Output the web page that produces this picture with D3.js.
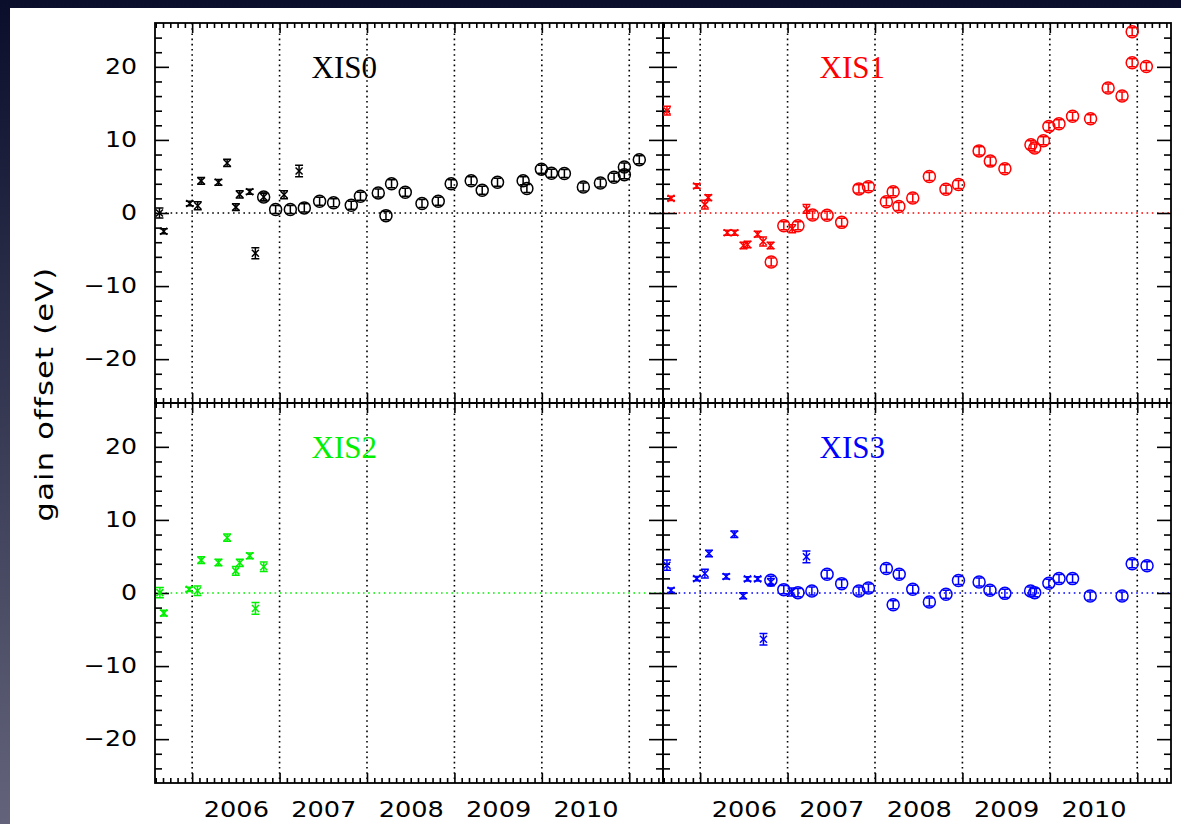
<!DOCTYPE html>
<html>
<head>
<meta charset="utf-8">
<script src="https://cdn.jsdelivr.net/npm/d3@7"></script>
<style>
  html, body { margin: 0; padding: 0; background: #fff; }
  svg { display: block; }
</style>
</head>
<body>
<div id="chart"></div>
<script>
// gain offset history of the four XIS sensors (time in decimal years, offset in eV)
// mark: 'x' = early calibration (cross), 'o' = later calibration (circle)
var xis0Time = [2005.626, 2005.675, 2005.973, 2006.064, 2006.103, 2006.300, 2006.400, 2006.500, 2006.544, 2006.658,
    2006.723, 2006.818, 2006.818, 2006.955, 2007.051, 2007.123, 2007.223, 2007.283, 2007.458, 2007.618,
    2007.820, 2007.925, 2008.129, 2008.217, 2008.281, 2008.438, 2008.629, 2008.815, 2008.963, 2009.192,
    2009.318, 2009.493, 2009.786, 2009.829, 2009.995, 2010.110, 2010.258, 2010.475, 2010.670, 2010.826,
    2010.944, 2010.944, 2011.115];
var xis0Gain = [0.0, -2.5, 1.3, 1.0, 4.4, 4.2, 6.85, 0.8, 2.55, 2.9,
    -5.5, 2.2, 2.2, 0.47, 2.5, 0.47, 5.75, 0.7, 1.6, 1.4,
    1.05, 2.3, 2.75, -0.36, 4.0, 2.85, 1.3, 1.6, 4.0, 4.4,
    3.1, 4.2, 4.4, 3.35, 6.0, 5.45, 5.4, 3.55, 4.1, 4.9,
    5.25, 6.3, 7.3];
var xis0Err = [0.7, 0.35, 0.3, 0.55, 0.45, 0.4, 0.5, 0.45, 0.5, 0.35,
    0.75, 0.5, 0.55, 0.55, 0.55, 0.55, 0.8, 0.55, 0.55, 0.55,
    0.55, 0.55, 0.55, 0.55, 0.55, 0.55, 0.55, 0.55, 0.55, 0.55,
    0.55, 0.55, 0.55, 0.55, 0.55, 0.55, 0.55, 0.55, 0.55, 0.55,
    0.55, 0.55, 0.55];
var xis0Mark = 'xxxxxxxxxxxxooxoxoooooooooooooooooooooooooo'.split('');

var xis1Time = [2005.620, 2005.667, 2005.961, 2006.054, 2006.093, 2006.310, 2006.395, 2006.496, 2006.542, 2006.658,
    2006.720, 2006.806, 2006.813, 2006.957, 2007.053, 2007.119, 2007.216, 2007.286, 2007.452, 2007.619,
    2007.816, 2007.925, 2008.130, 2008.208, 2008.273, 2008.432, 2008.622, 2008.812, 2008.955, 2009.191,
    2009.319, 2009.486, 2009.784, 2009.827, 2009.927, 2009.989, 2010.105, 2010.260, 2010.466, 2010.667,
    2010.826, 2010.942, 2010.942, 2011.104];
var xis1Gain = [14.0, 2.0, 3.7, 1.15, 2.1, -2.7, -2.7, -4.45, -4.3, -2.9,
    -3.9, -4.45, -6.7, -1.75, -2.15, -1.75, 0.55, -0.27, -0.32, -1.28,
    3.3, 3.6, 1.55, 2.9, 0.9, 2.05, 5.0, 3.25, 3.9, 8.5,
    7.1, 6.05, 9.35, 8.9, 9.9, 11.85, 12.2, 13.25, 12.9, 17.1,
    16.0, 24.8, 20.55, 20.05];
var xis1Err = [0.6, 0.3, 0.3, 0.6, 0.4, 0.35, 0.35, 0.45, 0.45, 0.4,
    0.6, 0.45, 0.55, 0.55, 0.55, 0.55, 0.6, 0.55, 0.55, 0.55,
    0.55, 0.55, 0.55, 0.55, 0.55, 0.55, 0.55, 0.55, 0.55, 0.55,
    0.55, 0.55, 0.55, 0.55, 0.55, 0.55, 0.55, 0.55, 0.55, 0.55,
    0.55, 0.55, 0.55, 0.55];
var xis1Mark = 'xxxxxxxxxxxxooxoxooooooooooooooooooooooooooo'.split('');

var xis2Time = [2005.631, 2005.676, 2005.966, 2006.061, 2006.103, 2006.301, 2006.400, 2006.499, 2006.545, 2006.659,
    2006.724, 2006.819];
var xis2Gain = [0.05, -2.75, 0.5, 0.32, 4.5, 4.17, 7.57, 3.03, 4.13, 5.09,
    -2.11, 3.58];
var xis2Err = [0.7, 0.4, 0.3, 0.65, 0.45, 0.45, 0.5, 0.6, 0.5, 0.4,
    0.8, 0.65];
var xis2Mark = 'xxxxxxxxxxxx'.split('');

var xis3Time = [2005.620, 2005.667, 2005.961, 2006.054, 2006.101, 2006.298, 2006.391, 2006.492, 2006.542, 2006.658,
    2006.724, 2006.809, 2006.809, 2006.957, 2007.046, 2007.119, 2007.216, 2007.278, 2007.452, 2007.619,
    2007.816, 2007.925, 2008.130, 2008.208, 2008.277, 2008.432, 2008.622, 2008.812, 2008.955, 2009.191,
    2009.315, 2009.486, 2009.780, 2009.827, 2009.989, 2010.105, 2010.260, 2010.462, 2010.826, 2010.942,
    2011.112];
var xis3Gain = [3.8, 0.37, 1.97, 2.66, 5.41, 2.25, 8.03, -0.37, 1.93, 1.93,
    -6.33, 1.5, 1.74, 0.46, 0.14, 0.05, 4.95, 0.28, 2.57, 1.28,
    0.28, 0.69, 3.35, -1.6, 2.57, 0.5, -1.24, -0.18, 1.7, 1.51,
    0.37, -0.05, 0.28, 0.05, 1.33, 1.97, 1.97, -0.41, -0.41, 3.99,
    3.72];
var xis3Err = [0.7, 0.3, 0.3, 0.6, 0.45, 0.35, 0.45, 0.4, 0.3, 0.3,
    0.8, 0.5, 0.55, 0.55, 0.55, 0.55, 0.8, 0.55, 0.55, 0.55,
    0.55, 0.55, 0.55, 0.55, 0.55, 0.55, 0.55, 0.55, 0.55, 0.55,
    0.55, 0.55, 0.55, 0.55, 0.55, 0.55, 0.55, 0.55, 0.55, 0.55,
    0.55];
var xis3Mark = 'xxxxxxxxxxxxooxoxoooooooooooooooooooooooo'.split('');

var sensorNames = ['XIS0', 'XIS1', 'XIS2', 'XIS3'];
var sensorColors = ['#000000', '#ff0000', '#00f000', '#0000ff'];

var yearTicks = [2006, 2007, 2008, 2009, 2010, 2011];
var yearLabels = [2006.5, 2007.5, 2008.5, 2009.5, 2010.5];
var gainTicks = [-20, -10, 0, 10, 20];
var yearDomain = [2005.575, 2011.386];
var gainDomain = [-26, 26];

var W = 1181, H = 824;
var colRange = [[155, 663], [663, 1171]];
var rowRange = [[403, 23], [783, 403]];
var labelFont = '"DejaVu Sans", sans-serif';

var svg = d3.select('#chart').append('svg')
        .attr('width', W)
        .attr('height', H);

// slide background (dark frame top / left)
var grad = svg.append('defs').append('linearGradient')
        .attr('id', 'bg')
        .attr('x1', 0).attr('y1', 0).attr('x2', 0).attr('y2', 1);
grad.append('stop').attr('offset', '0%').attr('stop-color', '#0a0e2b');
grad.append('stop').attr('offset', '100%').attr('stop-color', '#63647b');
svg.append('rect').attr('width', W).attr('height', H).attr('fill', 'url(#bg)');
svg.append('rect').attr('x', 10).attr('y', 8).attr('width', W - 10).attr('height', H - 8).attr('fill', '#fff');

// monthly minor ticks
var monthTicks = [];
for (var yr = 2005; yr <= 2011; yr++) {
    for (var mo = 1; mo < 12; mo++) {
        var d = yr + mo / 12;
        if (d >= yearDomain[0] && d <= yearDomain[1]) monthTicks.push(d);
    }
}
var gainMinor = d3.range(-24, 25, 2).filter(function (d) { return d % 10 !== 0; });

var panels = [
    {t: xis0Time, v: xis0Gain, e: xis0Err, m: xis0Mark, col: 0, row: 0},
    {t: xis1Time, v: xis1Gain, e: xis1Err, m: xis1Mark, col: 1, row: 0},
    {t: xis2Time, v: xis2Gain, e: xis2Err, m: xis2Mark, col: 0, row: 1},
    {t: xis3Time, v: xis3Gain, e: xis3Err, m: xis3Mark, col: 1, row: 1}
];

panels.forEach(function (p, i) {
    var color = sensorColors[i];
    var x = d3.scaleLinear().domain(yearDomain).range(colRange[p.col]);
    var y = d3.scaleLinear().domain(gainDomain).range(rowRange[p.row]);
    var x0 = colRange[p.col][0], x1 = colRange[p.col][1];
    var y0 = rowRange[p.row][1], y1 = rowRange[p.row][0];

    var g = svg.append('g').attr('class', 'panel');

    // dotted year lines and zero line
    g.selectAll('line.year')
            .data(yearTicks)
            .enter().append('line')
            .attr('class', 'year')
            .attr('x1', function (d) { return x(d); })
            .attr('x2', function (d) { return x(d); })
            .attr('y1', y0).attr('y2', y1)
            .attr('stroke', '#000')
            .attr('stroke-width', 1.6)
            .attr('stroke-dasharray', '1.6,3.6');
    g.append('line')
            .attr('x1', x0).attr('x2', x1)
            .attr('y1', y(0)).attr('y2', y(0))
            .attr('stroke', color)
            .attr('stroke-width', 1.6)
            .attr('stroke-dasharray', '1.6,3.6');

    // inward ticks on all four sides
    function tickAxis(axis, tx, ty, values, size) {
        g.append('g')
                .attr('transform', 'translate(' + tx + ',' + ty + ')')
                .call(axis.tickValues(values).tickSize(-size).tickFormat(''))
                .call(function (s) {
                    s.select('.domain').remove();
                    s.selectAll('line').attr('stroke', '#000').attr('stroke-width', 1.6);
                });
    }
    tickAxis(d3.axisBottom(x), 0, y1, yearTicks, 10);
    tickAxis(d3.axisBottom(x), 0, y1, monthTicks, 5);
    tickAxis(d3.axisTop(x), 0, y0, yearTicks, 10);
    tickAxis(d3.axisTop(x), 0, y0, monthTicks, 5);
    tickAxis(d3.axisLeft(y), x0, 0, gainTicks, 14);
    tickAxis(d3.axisLeft(y), x0, 0, gainMinor, 7);
    tickAxis(d3.axisRight(y), x1, 0, gainTicks, 14);
    tickAxis(d3.axisRight(y), x1, 0, gainMinor, 7);

    g.append('rect')
            .attr('x', x0).attr('y', y0)
            .attr('width', x1 - x0).attr('height', y1 - y0)
            .attr('fill', 'none')
            .attr('stroke', '#000')
            .attr('stroke-width', 1.8);

    // tick labels
    if (p.col === 0) {
        g.append('g')
                .attr('transform', 'translate(' + x0 + ',0)')
                .call(d3.axisLeft(y).tickValues(gainTicks).tickSize(0).tickPadding(0).tickFormat(d3.format('d')))
                .call(function (s) {
                    s.select('.domain').remove();
                    s.selectAll('text')
                            .attr('x', -18 / 1.2)
                            .attr('transform', 'scale(1.2,1)')
                            .attr('fill', '#000')
                            .style('font-family', labelFont)
                            .style('font-size', '21px');
                });
    }
    if (p.row === 1) {
        g.append('g')
                .attr('transform', 'translate(0,' + y1 + ')')
                .call(d3.axisBottom(x).tickValues(yearLabels).tickSize(0).tickPadding(19).tickFormat(function (d) { return Math.floor(d); }))
                .call(function (s) {
                    s.select('.domain').remove();
                    s.selectAll('text')
                            .attr('transform', 'scale(1.22,1)')
                            .attr('fill', '#000')
                            .style('font-family', labelFont)
                            .style('font-size', '21px');
                });
    }

    // sensor name
    g.append('text')
            .attr('x', x(2007.74))
            .attr('y', y0 + 55)
            .attr('text-anchor', 'middle')
            .attr('fill', color)
            .style('font-family', '"Liberation Serif", "DejaVu Serif", serif')
            .style('font-size', '31px')
            .text(sensorNames[i]);

    // data points with error bars
    var pts = g.selectAll('g.pt')
            .data(p.t.map(function (t, k) { return {t: t, v: p.v[k], e: p.e[k], m: p.m[k]}; }))
            .enter().append('g')
            .attr('class', 'pt')
            .attr('transform', function (d) { return 'translate(' + x(d.t) + ',' + y(d.v) + ')'; })
            .attr('stroke', color)
            .attr('stroke-width', 1.5)
            .attr('fill', 'none');

    pts.append('path')
            .attr('d', function (d) {
                var top = y(d.v + d.e) - y(d.v), bot = y(d.v - d.e) - y(d.v);
                var c = d.m === 'x' ? 4 : 3.5;
                return 'M0,' + top + 'V' + bot +
                        'M' + (-c) + ',' + top + 'H' + c +
                        'M' + (-c) + ',' + bot + 'H' + c;
            });
    pts.filter(function (d) { return d.m === 'x'; })
            .append('path')
            .attr('d', 'M-3.5,-3.5L3.5,3.5M-3.5,3.5L3.5,-3.5');
    pts.filter(function (d) { return d.m === 'o'; })
            .append('circle')
            .attr('r', 6);
});

// shared y title
svg.append('text')
        .attr('transform', 'translate(53,394) rotate(-90) scale(1.22,1)')
        .attr('text-anchor', 'middle')
        .attr('fill', '#000')
        .style('font-family', labelFont)
        .style('font-size', '25px')
        .style('letter-spacing', '1px')
        .text('gain offset (eV)');
</script>
</body>
</html>
